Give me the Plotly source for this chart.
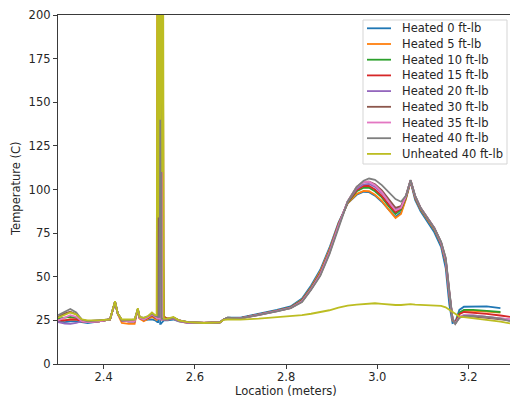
import plotly.graph_objects as go

# ---------------- data ----------------
location = [
    2.300, 2.315, 2.327, 2.340, 2.352, 2.365, 2.390, 2.414, 2.420, 2.425,
    2.431, 2.440, 2.455, 2.468, 2.472, 2.475, 2.479, 2.488, 2.498, 2.506,
    2.513, 2.5165, 2.518, 2.5195, 2.521, 2.5225, 2.524, 2.5255, 2.527, 2.5285,
    2.530, 2.532, 2.540, 2.553, 2.565, 2.585, 2.620, 2.655, 2.663, 2.672,
    2.700, 2.740, 2.780, 2.810, 2.835, 2.855, 2.875, 2.895, 2.915, 2.935,
    2.955, 2.970, 2.982, 2.995, 3.010, 3.025, 3.040, 3.052, 3.063, 3.073,
    3.083, 3.095, 3.110, 3.125, 3.140, 3.150, 3.158, 3.165, 3.171, 3.180,
    3.190, 3.210, 3.240, 3.270, 3.291,
]

heated_0 = [
    24.5, 24, 24.5, 24.5, 24, 23.5, 24.5, 25.5, 31, 36, 29, 25, 24.5, 24.5, 28.5, 31.5, 26.5, 25, 25.5, 25.5, 25,
    24, 24, 24, 300, 300, 23, 23, 23.5, 24, 24.5, 25,
    25, 25.5, 24.5, 23.8, 23.5, 23.8, 25.5, 26.5,
    26.6, 28.6, 31, 33, 37.5, 45, 54, 66.5, 81, 92, 97, 98.7, 98.5, 96.5, 93, 88.5, 84.3, 87, 95, 104.5,
    94, 87.5, 81.5, 75.5, 67, 55, 34, 23.5, 24, 31, 32.8, 33, 33, 32, None,
]
heated_5 = [
    25, 25, 25.5, 25.5, 24.5, 24, 24.5, 25.5, 31, 35.5, 28.5, 23.5, 23, 23, 28, 31, 26, 24.5, 26, 27, 26,
    25, 300, 110, 40, 26, 25.5, 25.5, 25.5, 25.5, 25.5, 25.5,
    25.5, 26, 24.5, 23.5, 23.5, 23.8, 25.5, 26.3,
    26.2, 28.2, 30.6, 32.5, 36.8, 44, 53, 65.5, 80.5, 92, 97.5, 99.2, 99, 97, 93.5, 88.5, 83.7, 86, 94.5, 104.8,
    95, 88.5, 83, 77, 68.5, 58, 39, 25, 23.5, 29, 30.5, 30.5, 30, 29.5, None,
]
heated_10 = [
    26, 26.5, 27, 26.5, 24.5, 24, 24.5, 25.5, 31, 35.5, 29, 25, 24.5, 24.5, 28.5, 31, 26.5, 25.5, 26.5, 28, 26.5,
    26, 26, 70, 155, 40, 27, 27, 27, 300, 72, 27,
    26, 26.5, 25, 23.8, 23.5, 23.8, 25.5, 26.3,
    26.3, 28.3, 30.6, 32.5, 36.5, 43.5, 52, 64.5, 80, 92.5, 99, 101, 101, 99, 95.5, 90.5, 86, 88.5, 95.5, 105,
    95.5, 89, 83.5, 77.5, 69, 59, 40, 25.5, 23.5, 29.5, 31, 31, 30.5, 29.8, None,
]
heated_15 = [
    25, 25, 25.5, 25.5, 24.5, 24, 24.5, 25.5, 31, 35.5, 29, 25, 24.5, 24.5, 28.5, 31, 26.5, 25.5, 26.5, 28, 26.5,
    26, 26, 26, 26, 26, 26, 26, 26, 300, 122, 27,
    26, 26.5, 25, 23.8, 23.5, 23.8, 25.5, 26.3,
    26.3, 28.3, 30.5, 32.3, 36.3, 43.3, 51.8, 64.3, 79.8, 92.8, 99.8, 102, 102, 100, 96.3, 91.5, 87, 89.3, 96, 105.2,
    95.8, 89.2, 83.8, 77.8, 69.3, 59.5, 40.5, 25.8, 23.5, 28.5, 29.8, 29.5, 28.7, 27.8, 27,
]
heated_20 = [
    24, 23.2, 23, 23.5, 24.5, 24, 24.5, 25.5, 31, 35.5, 29, 25, 24.5, 24.5, 28.5, 31, 26.5, 25.5, 27, 28.5, 27,
    26, 26, 300, 300, 26, 25.5, 25.5, 25.5, 25.5, 25.5, 25.5,
    25.5, 26, 24.5, 23.5, 23.5, 23.8, 25.5, 26.3,
    26.2, 28.2, 30.4, 32.2, 36, 43, 51.5, 64, 79.5, 93, 100.5, 103, 103.2, 101.5, 98, 93, 88.5, 90, 96.3, 105.2,
    96, 89.3, 83.8, 77.8, 69.3, 59.5, 40.5, 25.8, 23.5, 27, 28, 27.8, 27, 26.3, 25.5,
]
heated_30 = [
    27, 29, 30, 28.5, 25.5, 24.5, 25, 25.5, 31, 35.5, 29, 25, 25, 25, 28.5, 31.5, 26.5, 26, 27, 28.5, 27,
    27, 28, 300, 125, 28, 27, 27, 27, 27, 27, 26,
    25.5, 26.5, 25, 24, 23.5, 23.8, 25.5, 26.5,
    26.2, 28, 30.2, 32, 35.8, 42.8, 51, 63.5, 79, 93, 101.5, 104.3, 104.5, 103, 99.5, 94.5, 89.5, 90.5, 96.5, 105.3,
    96.3, 89.5, 84, 78, 69.8, 60.5, 41.5, 26, 23.2, 26.5, 27.3, 27.2, 26.5, 25.7, 25,
]
heated_35 = [
    25, 26.5, 28, 27, 24.5, 24, 24.5, 25.5, 31, 35.5, 29, 25, 24.5, 24.5, 28.5, 31, 26.5, 25.5, 27, 28.5, 27,
    26, 26, 26, 26, 26, 26, 300, 26, 26, 26, 26,
    25.5, 26.5, 25, 23.8, 23.5, 23.8, 25.5, 26.3,
    26.2, 28.1, 30.3, 32.1, 36, 43, 51.2, 63.8, 79.2, 93.2, 101.5, 104.3, 104.5, 102.5, 98.5, 93, 88, 89.5, 96.3, 105.3,
    96.2, 89.5, 84, 78, 69.5, 60, 41, 26, 23.2, 27, 28, 27.8, 27, 26.3, 25.5,
]
heated_40 = [
    28, 30, 31.5, 29.5, 25.5, 24.5, 25, 25.5, 31, 35.5, 29, 25, 25, 25.5, 29, 31.5, 27, 26.5, 27.5, 29, 27.5,
    27, 27, 27, 27, 27, 300, 26, 26, 26, 26, 26,
    25.5, 26.5, 25, 24, 23.5, 23.8, 25.5, 26.5,
    26.2, 28, 30.2, 32, 35.5, 42.5, 50.5, 62.8, 78.3, 93, 101.5, 105, 106.3, 105.5, 102.5, 98.5, 94.5, 93, 96.5, 105.5,
    96.5, 89.5, 84, 78, 70, 61, 42, 26, 23, 26.5, 27.5, 27.5, 27, 26, 24.5,
]
unheated_40 = [
    26.5, 28, 29.5, 28.5, 25.5, 25, 25, 25.5, 31, 36, 29, 25.5, 25.5, 25.5, 29, 32, 27, 26.5, 27.5, 29.5, 28,
    28, 300, 84, 300, 300, 140, 300, 300, 110, 300, 26,
    26, 27, 25, 24, 23.5, 23.8, 25.3, 25.5,
    25.4, 26, 26.7, 27.2, 28, 28.8, 29.6, 30.8, 32.3, 33.5, 34, 34.4, 34.8, 34.8, 34.5, 34, 33.8, 33.8, 34, 34.3,
    34, 33.8, 33.6, 33.5, 33.3, 32.5, 31, 29.5, 28.5, 27.2, 26.8, 26.2, 25.3, 24.3, 23.3,
]

series_names = [
    "Heated 0 ft-lb", "Heated 5 ft-lb", "Heated 10 ft-lb", "Heated 15 ft-lb",
    "Heated 20 ft-lb", "Heated 30 ft-lb", "Heated 35 ft-lb", "Heated 40 ft-lb",
    "Unheated 40 ft-lb",
]
series_values = [heated_0, heated_5, heated_10, heated_15, heated_20,
                 heated_30, heated_35, heated_40, unheated_40]
series_colors = ["#1f77b4", "#ff7f0e", "#2ca02c", "#d62728", "#9467bd",
                 "#8c564b", "#e377c2", "#7f7f7f", "#bcbd22"]

x_ticks = [2.4, 2.6, 2.8, 3.0, 3.2]
x_tick_labels = ["2.4", "2.6", "2.8", "3.0", "3.2"]
y_ticks = [0, 25, 50, 75, 100, 125, 150, 175, 200]
x_title = "Location (meters)"
y_title = "Temperature (C)"

# ---------------- figure ----------------
W, H = 510, 397
L, R, T, B = 58, 510, 15, 364  # plot area in pixels

FONT = dict(family="DejaVu Sans", size=11.5, color="#262626")
AXIS_COLOR = "#3a3a3a"

fig = go.Figure()
for name, color, vals in zip(series_names, series_colors, series_values):
    fig.add_trace(go.Scatter(
        x=location, y=vals, mode="lines", name=name,
        line=dict(color=color, width=1.8), showlegend=False,
        connectgaps=False, hoverinfo="skip",
    ))


def px(xp):
    return (xp - L) / (R - L)


def py(yp):
    return (B - yp) / (B - T)


shapes = []
annotations = []
# legend frame
shapes.append(dict(type="rect", xref="paper", yref="paper",
                   x0=px(363), x1=px(507), y0=py(164), y1=py(20),
                   line=dict(color="#d5d5d5", width=1), fillcolor="rgba(255,255,255,0.85)",
                   layer="above"))
for i, (name, color) in enumerate(zip(series_names, series_colors)):
    yc = 28.3 + i * 15.7
    shapes.append(dict(type="line", xref="paper", yref="paper",
                       x0=px(367), x1=px(391), y0=py(yc), y1=py(yc),
                       line=dict(color=color, width=1.8), layer="above"))
    annotations.append(dict(xref="paper", yref="paper", x=px(400), y=py(yc),
                            text=name, showarrow=False, xanchor="left",
                            yanchor="middle", font=FONT))

# axis titles
annotations.append(dict(xref="paper", yref="paper", x=px(286), y=py(391),
                        text=x_title, showarrow=False, xanchor="center",
                        yanchor="middle", font=FONT))
annotations.append(dict(xref="paper", yref="paper", x=px(16), y=py(189),
                        text=y_title, showarrow=False, xanchor="center",
                        yanchor="middle", textangle=-90, font=FONT))

fig.update_layout(
    width=W, height=H,
    margin=dict(l=L, r=W - R, t=T, b=H - B, pad=0),
    paper_bgcolor="white", plot_bgcolor="white",
    font=FONT,
    showlegend=False,
    shapes=shapes,
    annotations=annotations,
    xaxis=dict(
        range=[2.30, 3.291], tickvals=x_ticks, ticktext=x_tick_labels,
        ticks="outside", ticklen=4, tickwidth=1, tickcolor=AXIS_COLOR,
        showline=True, linecolor=AXIS_COLOR, linewidth=1.3, mirror=True,
        showgrid=False, zeroline=False, automargin=False,
        tickfont=FONT, ticklabelstandoff=-2,
    ),
    yaxis=dict(
        range=[0, 200], tickvals=y_ticks,
        ticks="outside", ticklen=4, tickwidth=1, tickcolor=AXIS_COLOR,
        showline=True, linecolor=AXIS_COLOR, linewidth=1.3, mirror=False,
        showgrid=False, zeroline=False, automargin=False,
        tickfont=FONT,
    ),
)

fig.write_html("out.html")
